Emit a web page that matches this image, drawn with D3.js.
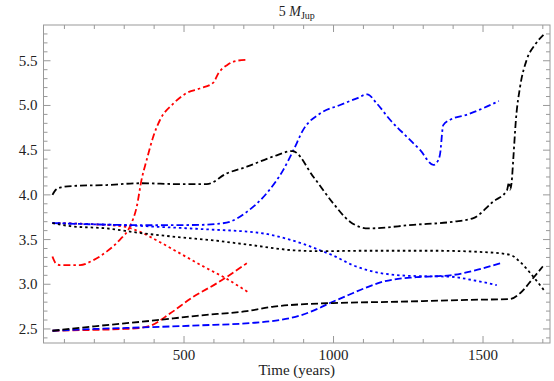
<!DOCTYPE html>
<html>
<head>
<meta charset="utf-8">
<script src="https://cdn.jsdelivr.net/npm/d3@7"></script>
<style>
  body { margin: 0; background: #fff; }
  svg text { font-family: "Liberation Serif", "Times New Roman", serif; fill: #222; }
</style>
</head>
<body>
<div id="chart"></div>
<script>
// data: [time (years), value]
const redDashed = [[60,2.48],[200,2.49],[300,2.50],[350,2.51],[387,2.535],[454,2.675],[531,2.86],[609,3.01],[710,3.235]];
const redDotted = [[60,3.685],[200,3.67],[300,3.645],[350,3.59],[420,3.47],[500,3.32],[553,3.22],[643,3.06],[715,2.91]];
const redDotDash = [[60,3.31],[70,3.24],[85,3.215],[152,3.215],[197,3.27],[241,3.365],[286,3.50],[319,3.645],[342,3.87],
    [358,4.17],[375,4.39],[397,4.65],[420,4.84],[464,5.02],[509,5.14],[553,5.19],[598,5.255],[615,5.36],[648,5.46],[676,5.50],[710,5.51]];

const blueDashed = [[60,2.48],[200,2.50],[386,2.52],[550,2.54],[720,2.565],[820,2.60],[888,2.65],[950,2.73],[988,2.79],
    [1050,2.88],[1111,2.965],[1167,3.03],[1278,3.08],[1390,3.10],[1479,3.16],[1557,3.235]];
const blueDotted = [[60,3.685],[300,3.66],[487,3.63],[600,3.61],[687,3.595],[780,3.56],[843,3.51],[900,3.45],[955,3.38],
    [1000,3.32],[1060,3.22],[1111,3.16],[1222,3.10],[1300,3.09],[1390,3.085],[1460,3.05],[1546,2.99]];
const blueDotDash = [[60,3.685],[200,3.67],[400,3.66],[560,3.665],[610,3.675],[654,3.70],[710,3.81],[777,4.02],[832,4.28],
    [866,4.50],[899,4.73],[955,4.91],[1022,5.005],[1078,5.08],[1113,5.125],[1144,5.025],[1189,4.84],[1245,4.65],[1290,4.50],
    [1334,4.335],[1345,4.36],[1356,4.45],[1367,4.78],[1390,4.84],[1445,4.895],[1501,4.97],[1553,5.05]];

const blackDashed = [[60,2.48],[200,2.53],[386,2.59],[550,2.65],[710,2.70],[800,2.75],[888,2.775],[999,2.79],[1222,2.805],
    [1445,2.825],[1590,2.835],[1624,2.90],[1668,3.07],[1700,3.20]];
const blackDotted = [[60,3.685],[120,3.65],[240,3.625],[350,3.575],[487,3.525],[600,3.49],[721,3.44],[866,3.38],[955,3.37],
    [1111,3.375],[1334,3.375],[1501,3.36],[1590,3.33],[1624,3.25],[1668,3.085],[1707,2.92]];
const blackDotDash = [[60,4.00],[72,4.06],[90,4.085],[130,4.10],[241,4.11],[353,4.13],[487,4.12],[576,4.12],[643,4.24],
    [710,4.315],[799,4.43],[863,4.49],[933,4.20],[999,3.905],[1055,3.70],[1116,3.625],[1267,3.665],[1401,3.70],[1468,3.74],
    [1534,3.925],[1580,4.05],[1587,4.14],[1591,4.06],[1596,4.15],[1601,4.39],[1610,4.84],[1624,5.21],[1646,5.51],[1674,5.68],[1702,5.79]];

const xMajorTicks = [500, 1000, 1500];
const yMajorTicks = [2.5, 3.0, 3.5, 4.0, 4.5, 5.0, 5.5];
const xLabel = "Time (years)";

const series = [
    { data: redDashed, color: "#ff0000", dash: "7,3" },
    { data: redDotted, color: "#ff0000", dash: "2.5,3" },
    { data: redDotDash, color: "#ff0000", dash: "7,3,2.5,3" },
    { data: blueDashed, color: "#0000ff", dash: "7,3" },
    { data: blueDotted, color: "#0000ff", dash: "2.5,3" },
    { data: blueDotDash, color: "#0000ff", dash: "7,3,2.5,3" },
    { data: blackDashed, color: "#000000", dash: "7,3" },
    { data: blackDotted, color: "#000000", dash: "2.5,3" },
    { data: blackDotDash, color: "#000000", dash: "7,3,2.5,3" }
];

const width = 554, height = 381;
const mLeft = 43.5, mRight = 550, mTop = 25, mBottom = 343;

var svg = d3.select("#chart").append("svg").attr("width", width).attr("height", height);

var x = d3.scaleLinear().domain([30, 1724]).range([mLeft, mRight]);
var y = d3.scaleLinear().domain([2.343, 5.90]).range([mBottom, mTop]);

const frameColor = "#999";

// minor ticks every 100 years / 0.1
var xMinor = d3.range(100, 1701, 100).filter(function(d) { return xMajorTicks.indexOf(d) < 0; });
var yMinor = d3.range(24, 59).map(function(d) { return d / 10; }).filter(function(d) {
    return yMajorTicks.indexOf(d) < 0;
});

function tickLines(cls, vals, vertical, len) {
    var g = svg.append("g").attr("class", cls);
    vals.forEach(function(v) {
        if (vertical) {
            g.append("line").attr("x1", x(v)).attr("x2", x(v)).attr("y1", mBottom).attr("y2", mBottom - len);
            g.append("line").attr("x1", x(v)).attr("x2", x(v)).attr("y1", mTop).attr("y2", mTop + len);
        } else {
            g.append("line").attr("y1", y(v)).attr("y2", y(v)).attr("x1", mLeft).attr("x2", mLeft + len);
            g.append("line").attr("y1", y(v)).attr("y2", y(v)).attr("x1", mRight).attr("x2", mRight - len);
        }
    });
    g.selectAll("line").attr("stroke", frameColor).attr("stroke-width", 1);
}
tickLines("xminor", xMinor, true, 4);
tickLines("xmajor", xMajorTicks, true, 7);
tickLines("yminor", yMinor, false, 4);
tickLines("ymajor", yMajorTicks, false, 7);

// lines
var line = d3.line()
    .x(function(d) { return x(d[0]); })
    .y(function(d) { return y(d[1]); })
    .curve(d3.curveMonotoneX);

var plot = svg.append("g");
plot.append("clipPath").attr("id", "clip").append("rect")
    .attr("x", mLeft).attr("y", mTop).attr("width", mRight - mLeft).attr("height", mBottom - mTop);

plot.selectAll("path.series")
    .data(series)
    .enter()
    .append("path")
    .attr("class", "series")
    .attr("clip-path", "url(#clip)")
    .attr("d", function(d) { return line(d.data); })
    .attr("fill", "none")
    .attr("stroke", function(d) { return d.color; })
    .attr("stroke-width", 1.8)
    .attr("stroke-dasharray", function(d) { return d.dash; });

// frame
svg.append("rect")
    .attr("x", mLeft).attr("y", mTop)
    .attr("width", mRight - mLeft).attr("height", mBottom - mTop)
    .attr("fill", "none").attr("stroke", frameColor).attr("stroke-width", 1);

// tick labels
svg.selectAll("text.xlab")
    .data(xMajorTicks)
    .enter()
    .append("text")
    .attr("class", "xlab")
    .attr("x", function(d) { return x(d); })
    .attr("y", mBottom + 17)
    .attr("text-anchor", "middle")
    .style("font-size", "15px")
    .text(function(d) { return d; });

svg.selectAll("text.ylab")
    .data(yMajorTicks)
    .enter()
    .append("text")
    .attr("class", "ylab")
    .attr("x", mLeft - 6)
    .attr("y", function(d) { return y(d) + 5; })
    .attr("text-anchor", "end")
    .style("font-size", "15px")
    .text(function(d) { return d.toFixed(1); });

// axis label
svg.append("text")
    .attr("x", (mLeft + mRight) / 2)
    .attr("y", 375)
    .attr("text-anchor", "middle")
    .style("font-size", "15px")
    .text(xLabel);

// title: 5 M_Jup
var title = svg.append("text")
    .attr("x", (mLeft + mRight) / 2)
    .attr("y", 16)
    .attr("text-anchor", "middle")
    .style("font-size", "14px");
title.append("tspan").text("5 ");
title.append("tspan").style("font-style", "italic").text("M");
title.append("tspan").attr("dy", 3).style("font-size", "10px").text("Jup");
</script>
</body>
</html>
